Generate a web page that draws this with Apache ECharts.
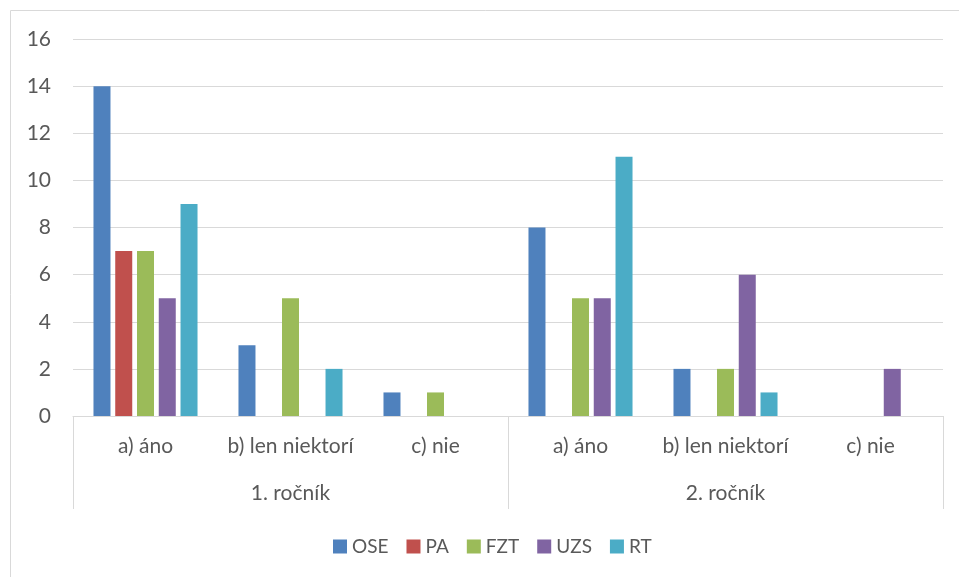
<!DOCTYPE html>
<html>
<head>
<meta charset="utf-8">
<script src="https://cdn.jsdelivr.net/npm/echarts@6/dist/echarts.min.js"></script>
<style>
html, body { margin: 0; padding: 0; background: #fff; }
#tubiao { width: 959px; height: 577px; }
</style>
</head>
<body>
<div id="tubiao"></div>
<script>
// kategórie a skupiny
var kategorie = ['a) áno', 'b) len niektorí', 'c) nie', 'a) áno', 'b) len niektorí', 'c) nie'];
var rocniky = ['1. ročník', '2. ročník'];
var nazvy = ['OSE', 'PA', 'FZT', 'UZS', 'RT'];
var farby = ['#4F81BD', '#C0504D', '#9BBB59', '#8064A2', '#4BACC6'];

// hodnoty radov
var ose = [14, 3, 1, 8, 2, 0];
var pa  = [7, 0, 0, 0, 0, 0];
var fzt = [7, 5, 1, 5, 2, 0];
var uzs = [5, 0, 0, 5, 6, 2];
var rt  = [9, 2, 0, 11, 1, 0];
var hodnoty = [ose, pa, fzt, uzs, rt];

var font = 'Lato';
var sivaText = '#595959';
var sivaCiara = '#D9D9D9';

var myChart = echarts.init(document.getElementById('tubiao'));

var series = [];
for (var i = 0; i < nazvy.length; i++) {
    series.push({
        name: nazvy[i],
        type: 'bar',
        xAxisIndex: 0,
        barWidth: 17,
        barGap: '28%',
        itemStyle: { color: farby[i] },
        data: hodnoty[i]
    });
}

var option = {
    animation: false,
    textStyle: { fontFamily: font },
    graphic: [{
        type: 'rect',
        shape: { x: 10.5, y: 10.5, width: 1000, height: 1000 },
        style: { fill: 'none', stroke: sivaCiara, lineWidth: 1 },
        silent: true
    }],
    grid: { left: 73, right: 16, top: 39, bottom: 161 },
    legend: {
        data: nazvy,
        left: 328,
        top: 532,
        icon: 'rect',
        itemWidth: 14,
        itemHeight: 14,
        itemGap: 18,
        textStyle: { color: sivaText, fontSize: 19, fontFamily: font }
    },
    xAxis: [
        {
            type: 'category',
            data: kategorie,
            axisLine: { lineStyle: { color: sivaCiara, width: 1 } },
            axisTick: { show: false },
            axisLabel: { color: sivaText, fontSize: 21, margin: 20, interval: 0, fontFamily: font }
        },
        {
            type: 'category',
            data: rocniky,
            position: 'bottom',
            axisLine: { show: false },
            axisTick: { show: true, length: 93, lineStyle: { color: sivaCiara, width: 1 } },
            axisLabel: { color: sivaText, fontSize: 21, margin: 67, fontFamily: font }
        }
    ],
    yAxis: {
        type: 'value',
        min: 0,
        max: 16,
        interval: 2,
        axisLine: { show: false },
        axisTick: { show: false },
        splitLine: { lineStyle: { color: sivaCiara, width: 1 } },
        axisLabel: { color: sivaText, fontSize: 21, margin: 22, fontFamily: font }
    },
    series: series
};

myChart.setOption(option);
</script>
</body>
</html>
